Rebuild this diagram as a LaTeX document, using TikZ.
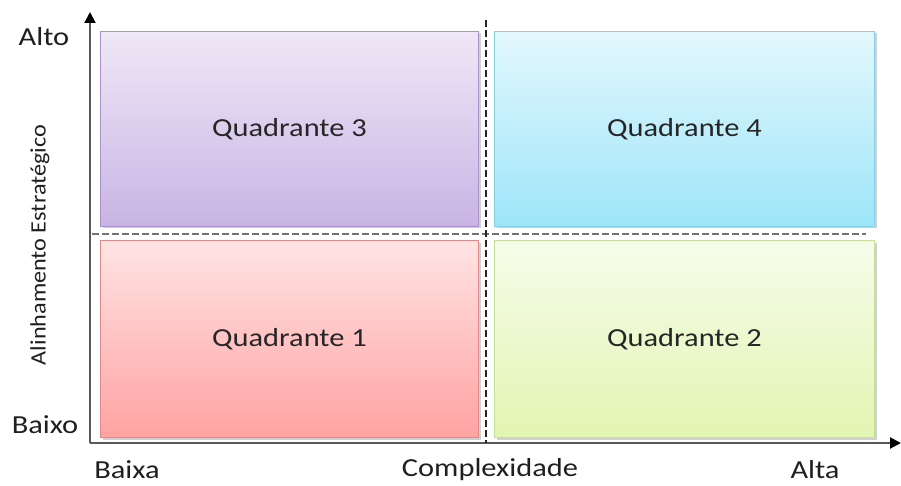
\documentclass[tikz,border=0pt]{standalone}
\usepackage{fontspec}
\setmainfont{Carlito}
\newfontfamily\widefont[FakeStretch=1.17]{Carlito}
\newfontfamily\sidefont[FakeStretch=1.1]{Carlito}
\usetikzlibrary{arrows.meta,shadows}
\definecolor{qthreetop}{HTML}{EFE8F7}
\definecolor{qthreebot}{HTML}{C8B4E4}
\definecolor{qthreeedge}{HTML}{A993C9}
\definecolor{qfourtop}{HTML}{E3F8FD}
\definecolor{qfourbot}{HTML}{9DE5F9}
\definecolor{qfouredge}{HTML}{86CFE4}
\definecolor{qonetop}{HTML}{FFE4E4}
\definecolor{qonebot}{HTML}{FFA2A2}
\definecolor{qoneedge}{HTML}{DF8B8B}
\definecolor{qtwotop}{HTML}{F6FCEA}
\definecolor{qtwobot}{HTML}{E2F5B2}
\definecolor{qtwoedge}{HTML}{C4DF99}
\tikzset{
  x=1pt, y=-1pt,
  quad/.style={draw, line width=1pt, minimum width=378pt, minimum height=195pt,
    anchor=north west, inner sep=0pt, text=black!85,
    font=\widefont\fontsize{26}{28}\selectfont,
    drop shadow={shadow xshift=2pt, shadow yshift=-2pt, fill=black!30, opacity=0.6}},
  axis/.style={draw=black!65, line width=2pt, -{Triangle[length=11pt,width=11pt,fill=black,color=black]}},
  divider/.style={line width=2.4pt, dash pattern=on 7pt off 3pt},
  axlabel/.style={font=\widefont\fontsize{26}{28}\selectfont, text=black!88},
}
\begin{document}
\begin{tikzpicture}
\useasboundingbox (0,0) rectangle (901,486);
% quadrants
\node[quad, draw=qthreeedge, top color=qthreetop, bottom color=qthreebot] (q3) at (100,31) {Quadrante 3};
\node[quad, draw=qfouredge, top color=qfourtop, bottom color=qfourbot, minimum width=380pt] (q4) at (494,31) {Quadrante 4};
\node[quad, draw=qoneedge, top color=qonetop, bottom color=qonebot, minimum height=197pt] (q1) at (100,240) {Quadrante 1};
\node[quad, draw=qtwoedge, top color=qtwotop, bottom color=qtwobot, minimum width=380pt, minimum height=197pt] (q2) at (494,240) {Quadrante 2};
% axes
\coordinate (origin) at (90,443);
\coordinate (ytip) at (90,12);
\coordinate (xtip) at (901,443);
\draw[axis] (origin) -- (ytip);
\draw[axis] (origin) -- (xtip);
% dividing lines
\coordinate (vtop) at (486,20);
\coordinate (vbot) at (486,443);
\coordinate (hleft) at (92,234);
\coordinate (hright) at (866,234);
\draw[divider, draw=black!55] (hleft) -- (hright);
\draw[divider, draw=black!85] (vtop) -- (vbot);
% labels
\node[axlabel] (alto) at (44,37) {Alto};
\node[axlabel] (baixo) at (45,425) {Baixo};
\node[axlabel] (baixa) at (127,470) {Baixa};
\node[axlabel] (complex) at (490,470) {Complexidade};
\node[axlabel] (alta) at (815,470) {Alta};
\node[axlabel, font=\sidefont\fontsize{22}{24}\selectfont, rotate=90] (alinh) at (40,245) {Alinhamento Estratégico};
\end{tikzpicture}
\end{document}
